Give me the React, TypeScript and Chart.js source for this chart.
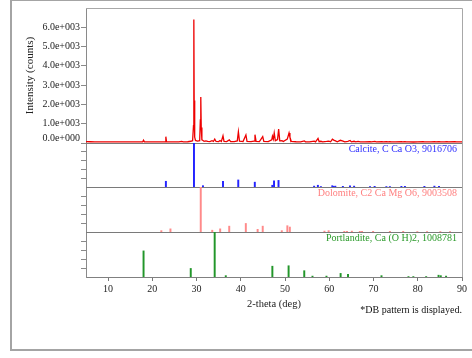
import React, { useEffect, useRef } from 'react';
import { Chart, registerables } from 'chart.js';
Chart.register(...registerables);

// Measured pattern (2-theta in deg, intensity in counts)
const specAngle = [
  5.0, 6.0, 7.0, 8.0, 9.0, 10.0, 11.0, 12.0, 13.0, 14.0, 15.0, 16.0, 17.0, 17.8, 18.0, 18.2,
  19.0, 20.0, 21.0, 22.0, 22.9, 23.05, 23.2, 24.0, 25.0, 26.0, 26.6, 27.0, 28.0, 28.7, 29.1,
  29.3, 29.38, 29.45, 29.52, 29.62, 29.75, 30.2, 30.7, 30.85, 30.95, 31.05, 31.2, 31.45, 31.7,
  32.1, 32.5, 33.0, 33.5, 33.8, 34.1, 34.4, 35.0, 35.3, 35.6, 35.97, 36.2, 36.8, 37.4, 37.7,
  38.5, 39.2, 39.45, 39.7, 40.5, 41.15, 41.4, 42.3, 43.0, 43.2, 43.45, 44.2, 44.95, 45.2, 46.2,
  47.0, 47.15, 47.35, 47.55, 47.8, 48.3, 48.55, 48.8, 49.3, 49.6, 50.5, 50.9, 51.1, 51.4, 52.5,
  53.5, 54.35, 54.6, 55.5, 56.6, 56.9, 57.45, 57.7, 58.1, 58.5, 59.4, 59.9, 60.3, 60.7, 61.0,
  61.4, 61.8, 62.5, 63.1, 63.5, 64.2, 64.7, 65.0, 65.6, 66.0, 66.5, 67.0, 68.0, 69.2, 69.5,
  70.3, 70.6, 71.9, 72.2, 72.9, 73.3, 73.7, 74.0, 75.0, 76.3, 76.6, 77.1, 77.4, 78.0, 79.0,
  80.0, 81.2, 81.5, 82.1, 83.0, 83.8, 84.1, 84.8, 85.2, 86.0, 86.6, 86.9, 88.4, 88.7, 89.4, 90.0,
];
const specCounts = [
  70, 65, 60, 62, 58, 60, 57, 58, 55, 56, 55, 54, 55, 56, 150, 60,
  55, 54, 55, 58, 60, 330, 62, 60, 58, 60, 85, 60, 65, 90, 120,
  900, 6400, 2200, 1450, 300, 130, 100, 120, 1200, 2380, 800, 160, 130, 90,
  110, 80, 75, 120, 80, 200, 80, 75, 130, 80, 370, 85, 75, 160, 75,
  70, 110, 580, 90, 75, 420, 85, 70, 100, 430, 85, 70, 330, 80, 70,
  170, 350, 200, 520, 120, 180, 720, 110, 120, 75, 200, 520, 300, 80, 65,
  60, 110, 60, 58, 100, 60, 240, 65, 90, 60, 80, 100, 65, 200, 150,
  110, 65, 140, 100, 60, 90, 130, 60, 90, 60, 80, 58, 55, 75, 55,
  80, 55, 70, 55, 68, 55, 70, 55, 54, 68, 54, 70, 54, 55, 53,
  54, 72, 55, 60, 55, 75, 55, 68, 54, 55, 70, 54, 68, 54, 55, 55,
];

// Reference (DB) patterns: 2-theta and relative intensity (%)
const calciteAngle = [23.06, 29.41, 31.44, 35.97, 39.42, 43.16, 47.12, 47.51, 48.52, 56.57, 57.42, 58.1, 60.68, 61.0, 61.36, 63.07, 64.68, 65.61, 69.21, 70.25, 72.9, 73.7, 76.3, 77.1, 81.5, 83.76, 84.8];
const calciteRel = [13, 100, 3, 13, 16, 11, 4, 14, 15, 2, 4, 1, 3, 1.5, 2, 1.5, 2.5, 2, 1, 1.5, 1, 1, 1.5, 1.5, 1.5, 2, 1.5];

const dolomiteAngle = [22.03, 24.09, 30.94, 33.54, 35.33, 37.38, 41.13, 43.8, 44.95, 49.26, 50.52, 51.08, 58.9, 59.85, 63.4, 64.0, 65.1, 66.9, 67.4, 69.9, 73.7, 76.7, 79.9, 82.1, 85.1, 87.3];
const dolomiteRel = [3, 7, 100, 4, 7, 13, 19, 6, 13, 3, 14, 11, 2, 3, 1.5, 1.5, 2, 1.5, 1.5, 1.5, 1.5, 1.5, 1, 1, 1, 1];

const portlanditeAngle = [18.01, 28.68, 34.09, 36.6, 47.13, 50.8, 54.34, 56.2, 59.36, 62.56, 64.23, 71.8, 77.9, 79.0, 81.9, 84.7, 85.2, 86.4];
const portlanditeRel = [58, 19, 100, 3, 24, 25, 14, 2, 2, 8, 6, 3, 1, 1, 1, 4, 3, 2];

const xTickValues = [10, 20, 30, 40, 50, 60, 70, 80, 90];
const yMainTickValues = [0, 1000, 2000, 3000, 4000, 5000, 6000];
const panelTickValues = [20, 40, 60, 80];

const phaseLabels = [
  'Calcite, C Ca O3, 9016706',
  'Dolomite, C2 Ca Mg O6, 9003508',
  'Portlandite, Ca (O H)2, 1008781',
];
const xTitle = '2-theta (deg)';
const yTitle = 'Intensity (counts)';
const noteText = '*DB pattern is displayed.';

const SERIF = "'Liberation Serif', 'Times New Roman', serif";
const RED = '#ee0000';
const BLUE = '#2424ff';
const PINK = '#ff8a8a';
const GREEN = '#22962a';
const LABEL_COLORS = ['#3030ff', '#ff8080', '#2a9a2a'];

const fmt = (v: number) => (v === 0 ? '0.0e+000' : (v / 1000).toFixed(1) + 'e+003');

export default function App() {
  const ref = useRef<HTMLCanvasElement>(null);
  useEffect(() => {
    const canvas = ref.current;
    if (!canvas) return;
    const pts = (xs: number[], ys: number[]) => xs.map((x, i) => ({ x, y: ys[i] }));

    const overlay = {
      id: 'overlay',
      beforeDatasetsDraw(chart: any) {
        const { ctx, chartArea: ca, scales } = chart;
        ctx.save();
        ctx.strokeStyle = '#7a7a7a';
        ctx.lineWidth = 1;
        ['yCal', 'yDol', 'yPor'].forEach((id) => {
          const y = Math.round(scales[id].top) + 0.5;
          ctx.beginPath();
          ctx.moveTo(ca.left, y);
          ctx.lineTo(ca.right, y);
          ctx.stroke();
        });
        ctx.strokeStyle = '#a8a8a8';
        ctx.beginPath();
        ctx.moveTo(ca.left, Math.round(ca.top) + 0.5);
        ctx.lineTo(Math.round(ca.right) + 0.5, Math.round(ca.top) + 0.5);
        ctx.lineTo(Math.round(ca.right) + 0.5, ca.bottom);
        ctx.stroke();
        ctx.restore();
      },
      afterDraw(chart: any) {
        const { ctx, chartArea: ca, scales } = chart;
        ctx.save();
        ctx.font = `10px ${SERIF}`;
        ctx.textAlign = 'right';
        ctx.textBaseline = 'middle';
        ['yCal', 'yDol', 'yPor'].forEach((id, i) => {
          ctx.fillStyle = LABEL_COLORS[i];
          ctx.fillText(phaseLabels[i], ca.right - 5, scales[id].top + 6);
        });
        ctx.fillStyle = '#222';
        const ym = scales.yMain;
        ctx.fillText(fmt(0), ym.right - 6, ym.getPixelForValue(0) - 5);
        ctx.fillStyle = '#111';
        ctx.fillText(noteText, ca.right, ca.bottom + 33);
        ctx.restore();
      },
    };

    const fixWidth = (s: any) => { s.width = 86; };
    const panelAxis = (weight: number, order: number) => ({
      type: 'linear',
      position: 'left',
      stack: 'xrd',
      stackWeight: weight,
      weight: order,
      min: 0,
      max: 100,
      offset: false,
      afterFit: fixWidth,
      afterBuildTicks: (s: any) => { s.ticks = panelTickValues.map((v) => ({ value: v })); },
      ticks: { display: false },
      grid: { drawOnChartArea: false, drawTicks: true, tickLength: 5, tickColor: '#8a8a8a' },
      border: { display: true, color: '#8a8a8a' },
    });

    const chart = new Chart(canvas, {
      type: 'bar',
      data: {
        datasets: [
          {
            type: 'line',
            data: pts(specAngle, specCounts),
            xAxisID: 'x',
            yAxisID: 'yMain',
            borderColor: RED,
            borderWidth: 1.3,
            pointRadius: 0,
            tension: 0,
          } as any,
          {
            type: 'bar',
            data: pts(calciteAngle, calciteRel),
            xAxisID: 'x',
            yAxisID: 'yCal',
            backgroundColor: BLUE,
            barThickness: 1.3,
            grouped: false,
            borderWidth: 0,
          },
          {
            type: 'bar',
            data: pts(dolomiteAngle, dolomiteRel),
            xAxisID: 'x',
            yAxisID: 'yDol',
            backgroundColor: PINK,
            barThickness: 1.3,
            grouped: false,
            borderWidth: 0,
          },
          {
            type: 'bar',
            data: pts(portlanditeAngle, portlanditeRel),
            xAxisID: 'x',
            yAxisID: 'yPor',
            backgroundColor: GREEN,
            barThickness: 1.3,
            grouped: false,
            borderWidth: 0,
          },
        ],
      },
      options: {
        responsive: false,
        animation: false,
        devicePixelRatio: 1,
        layout: { padding: { left: 0, right: 10, top: 8, bottom: 0 } },
        plugins: { legend: { display: false }, tooltip: { enabled: false } },
        scales: {
          x: {
            type: 'linear',
            position: 'bottom',
            min: 5,
            max: 90,
            offset: false,
            afterFit: (s: any) => { s.height = 81; },
            afterBuildTicks: (s: any) => { s.ticks = xTickValues.map((v) => ({ value: v })); },
            ticks: { color: '#222', font: { family: SERIF, size: 10 }, padding: 2, maxRotation: 0, autoSkip: false },
            grid: { offset: false, drawOnChartArea: false, drawTicks: true, tickLength: 4, tickColor: '#777' },
            border: { display: true, color: '#808080' },
            title: { display: true, text: xTitle, color: '#222', font: { family: SERIF, size: 10.5 }, padding: { top: 0, bottom: 47 } },
          },
          yMain: {
            type: 'linear',
            position: 'left',
            stack: 'xrd',
            stackWeight: 135,
            weight: 4,
            min: 0,
            max: 7000,
            offset: false,
            afterFit: fixWidth,
            afterBuildTicks: (s: any) => { s.ticks = yMainTickValues.map((v) => ({ value: v })); },
            ticks: {
              color: '#222',
              font: { family: SERIF, size: 10 },
              padding: 1,
              autoSkip: false,
              callback: (v: any) => (v === 0 ? '' : fmt(Number(v))),
            },
            grid: { drawOnChartArea: false, drawTicks: true, tickLength: 5, tickColor: '#8a8a8a' },
            border: { display: true, color: '#8a8a8a' },
            title: { display: true, text: yTitle, color: '#222', font: { family: SERIF, size: 11 }, padding: { top: 24, bottom: 0 } },
          },
          yCal: panelAxis(44, 3),
          yDol: panelAxis(45, 2),
          yPor: panelAxis(45, 1),
        } as any,
      },
      plugins: [overlay],
    } as any);
    return () => chart.destroy();
  }, []);

  return (
    <div style={{ position: 'absolute', left: 0, top: 0, width: 472, height: 358, background: '#fff', overflow: 'hidden' }}>
      <canvas ref={ref} width={472} height={358} style={{ position: 'absolute', left: 0, top: 0 }} />
      <div
        style={{
          position: 'absolute',
          left: 10,
          top: -1,
          width: 480,
          height: 352,
          border: '2px solid #a4a4a4',
          boxSizing: 'border-box',
          pointerEvents: 'none',
        }}
      />
    </div>
  );
}
